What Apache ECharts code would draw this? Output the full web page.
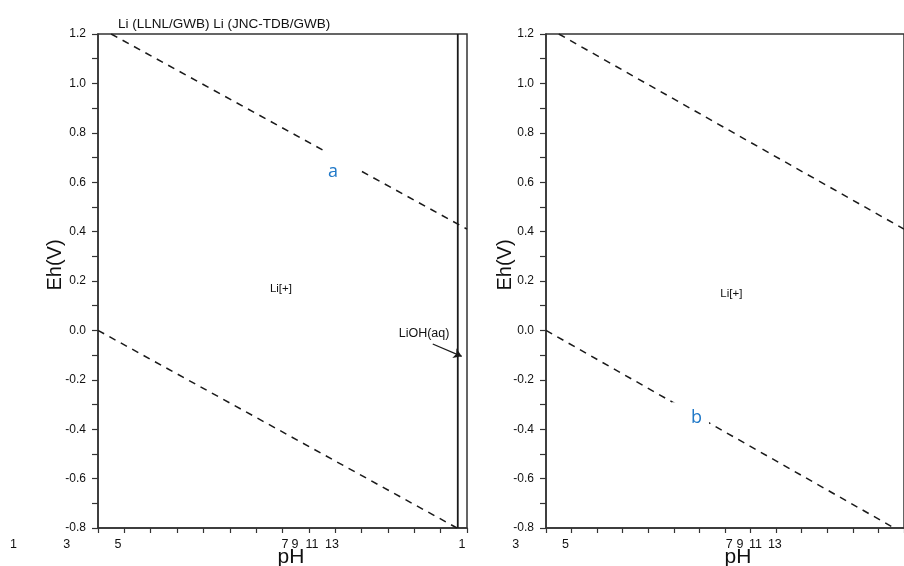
<!DOCTYPE html>
<html><head><meta charset="utf-8">
<script src="https://cdn.jsdelivr.net/npm/echarts@6/dist/echarts.min.js"></script>
<style>html,body{margin:0;padding:0;background:#fff}#c{width:904px;height:566px}</style>
</head><body><div id="c"></div>
<script>
// ---- data ----
const upperWaterLine = [[0.5, 1.2], [14, 0.41]];
const lowerWaterLine = [[0, 0], [13.62, -0.8]];
const liohBoundary = [[13.65, -0.8], [13.65, 1.2]];
const liohArrow = [[12.7, -0.055], [13.8, -0.105]];
const xTickTextLeft = ['1', '3', '5', '7', '9', '11', '13', '1'];
const xTickPosLeft = [-3.21, -1.19, 0.76, 7.09, 7.47, 8.12, 8.88, 13.81];
const xTickTextRight = ['3', '5', '7', '9', '11', '13'];
const xTickPosRight = [-1.18, 0.76, 7.17, 7.59, 8.19, 8.95];
const speciesLeft = [{ text: 'Li[+]', at: [6.94, 0.17] }, { text: 'LiOH(aq)', at: [12.37, -0.012] }];
const speciesRight = [{ text: 'Li[+]', at: [7.25, 0.15] }];
const markA = { text: 'a', at: [8.99, 0.64] };
const markB = { text: 'b', at: [5.65, -0.356] };
const titleText = 'Li (LLNL/GWB) Li (JNC-TDB/GWB)';

const FONT = '"Liberation Sans", Arial, sans-serif';
const INK = '#111';
const chart = echarts.init(document.getElementById('c'), null, { renderer: 'canvas' });

function xAx(gi) {
  return {
    gridIndex: gi, type: 'value', min: 0, max: 14, interval: 1,
    axisLine: { show: true, onZero: false, lineStyle: { color: '#333', width: 1.5 } },
    axisTick: { show: true, length: 5, inside: false, lineStyle: { color: '#333', width: 1.2 } },
    axisLabel: { show: false }, splitLine: { show: false }
  };
}
function yAx(gi) {
  return {
    gridIndex: gi, type: 'value', min: -0.8, max: 1.2, interval: 0.2,
    axisLine: { show: true, onZero: false, lineStyle: { color: '#333', width: 1.5 } },
    axisTick: { show: true, length: 6, lineStyle: { color: '#333', width: 1.2 } },
    minorTick: { show: true, splitNumber: 2, length: 6, lineStyle: { color: '#333', width: 1.2 } },
    axisLabel: { show: true, margin: 12, color: INK, fontSize: 12, fontFamily: FONT,
      formatter: v => v.toFixed(1) },
    splitLine: { show: false }
  };
}
const dashed = { color: '#1a1a1a', width: 1.5, type: [7, 6] };
function lineSeries(gi, data, style) {
  return { type: 'line', xAxisIndex: gi, yAxisIndex: gi, data: data, showSymbol: false, symbol: 'none',
    lineStyle: style, silent: true, animation: false };
}

chart.setOption({
  animation: false,
  title: { text: titleText, left: 113, top: 12, textStyle: { fontSize: 13.5, fontWeight: 'normal', color: INK, fontFamily: FONT } },
  grid: [
    { left: 98, top: 34, width: 369, height: 494, show: true, borderColor: '#333', borderWidth: 1.5 },
    { left: 546, top: 34, width: 369, height: 494, show: true, borderColor: '#333', borderWidth: 1.5 }
  ],
  xAxis: [xAx(0), xAx(1)],
  yAxis: [yAx(0), yAx(1)],
  series: [
    lineSeries(0, upperWaterLine, dashed),
    lineSeries(0, lowerWaterLine, dashed),
    lineSeries(0, liohBoundary, { color: '#1a1a1a', width: 1.8, type: 'solid' }),
    { type: 'lines', coordinateSystem: 'cartesian2d', xAxisIndex: 0, yAxisIndex: 0,
      symbol: ['none', 'arrow'], symbolSize: 8, silent: true,
      lineStyle: { color: '#1a1a1a', width: 1.3, opacity: 1 },
      data: [{ coords: liohArrow }] },
    lineSeries(1, upperWaterLine, dashed),
    lineSeries(1, lowerWaterLine, dashed)
  ]
});

const g = [];
function px(gi, p) { return chart.convertToPixel({ gridIndex: gi }, p); }
function addTicks(gi, pos, txt) {
  pos.forEach((p, i) => {
    const [x, y] = px(gi, [p, -0.8]);
    g.push({ type: 'text', x: x, y: y + 17, z: 100,
      style: { text: txt[i], font: '12.5px ' + FONT, fill: INK, align: 'center', verticalAlign: 'middle' } });
  });
}
addTicks(0, xTickPosLeft, xTickTextLeft);
addTicks(1, xTickPosRight, xTickTextRight);
function addSpecies(gi, list) {
  list.forEach(s => {
    const [x, y] = px(gi, s.at);
    g.push({ type: 'text', x: x, y: y, z: 100,
      style: { text: s.text, font: (s.text === 'Li[+]' ? '11.5px ' : '12.5px ') + FONT, fill: INK, align: 'center', verticalAlign: 'middle' } });
  });
}
addSpecies(0, speciesLeft);
addSpecies(1, speciesRight);
(function () {
  const [ax, ay] = px(0, markA.at);
  g.push({ type: 'text', x: ax, y: ay, z: 100,
    style: { text: markA.text, font: '18px "Open Sans", sans-serif', fill: '#1f78c8', align: 'center', verticalAlign: 'middle',
      backgroundColor: '#fff', padding: [24, 20, 0, 16] } });
  const [bx, by] = px(1, markB.at);
  g.push({ type: 'text', x: bx, y: by, z: 100,
    style: { text: markB.text, font: '18px "Open Sans", sans-serif', fill: '#1f78c8', align: 'center', verticalAlign: 'middle',
      backgroundColor: '#fff', padding: [14, 7, 0, 19] } });
})();
// axis names
[[55, 265], [505, 265]].forEach(p => g.push({ type: 'text', x: p[0], y: p[1], rotation: Math.PI / 2, z: 100,
  style: { text: 'Eh(V)', font: '20px ' + FONT, fill: INK, align: 'center', verticalAlign: 'middle' } }));
[[291, 557], [738, 557]].forEach(p => g.push({ type: 'text', x: p[0], y: p[1], z: 100,
  style: { text: 'pH', font: '21px ' + FONT, fill: INK, align: 'center', verticalAlign: 'middle' } }));
chart.setOption({ graphic: g });
</script>
</body></html>
